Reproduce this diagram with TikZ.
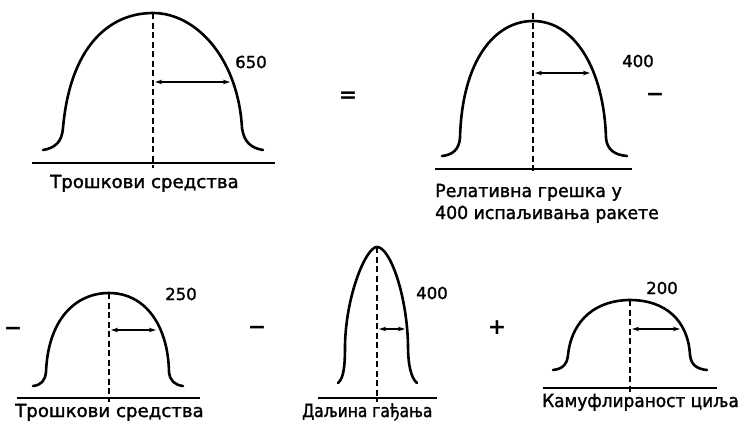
\documentclass[tikz,border=0pt]{standalone}
\usepackage{fontspec}
\setmainfont{DejaVu Sans}
\newfontfamily\lettering{DejaVu Sans}[FakeBold=1.6]
\usetikzlibrary{arrows.meta}
\begin{document}
\begin{tikzpicture}[x=1pt,y=-1pt,
  dome/.style={line width=2.6pt, line cap=round, line join=round},
  axisline/.style={line width=1.6pt},
  midline/.style={line width=1.5pt, dash pattern=on 6pt off 3.5pt},
  dimarrow/.style={line width=1.2pt, {Stealth[length=7pt,width=4.5pt]}-{Stealth[length=7pt,width=4.5pt]}},
  lbl/.style={font=\lettering\fontsize{18}{21}\selectfont, inner sep=0pt, anchor=base west},
  num/.style={font=\lettering\fontsize{16.5}{19}\selectfont, inner sep=0pt},
  op/.style={font=\fontsize{22}{24}\selectfont\bfseries, inner sep=0pt}]
\useasboundingbox (0,0) rectangle (743,424);

% top left
\draw[dome] (43,150) .. controls (55,148) and (62,142) .. (63,128) .. controls (70,48) and (108,13) .. (153,13) .. controls (196,13) and (238,58) .. (242,128) .. controls (244,142) and (251,148) .. (263,150);
\draw[axisline] (32,163) -- (275,163);
\coordinate (c1t) at (153,13); \coordinate (c1b) at (153,168);
\draw[midline] (c1t) -- (c1b);
\coordinate (a1l) at (155,82); \coordinate (a1r) at (230,82);
\draw[dimarrow] (a1l) -- (a1r);
\node[num] (n1) at (251,62) {650};
\node[lbl, xscale=1.01] (t1) at (50,188) {Трошкови средства};

\node[op] (eq) at (348,97) {=};

% top right
\draw[dome] (442,156) .. controls (452,155) and (459,150) .. (460,138) .. controls (462,60) and (495,21) .. (533,21) .. controls (575,21) and (604,70) .. (606,138) .. controls (607,150) and (615,155) .. (627,156);
\draw[axisline] (435,169) -- (632,169);
\coordinate (c2t) at (533,13); \coordinate (c2b) at (533,173);
\draw[midline] (c2t) -- (c2b);
\coordinate (a2l) at (535,73); \coordinate (a2r) at (590,73);
\draw[dimarrow] (a2l) -- (a2r);
\node[num] (n2) at (638,61) {400};
\node[op] (m1) at (655,97) {−};
\node[lbl, xscale=0.97] (t2a) at (435,197) {Релативна грешка у};
\node[lbl, xscale=0.96] (t2b) at (435,219) {400 испаљивања ракете};

% bottom left
\node[op] (m2) at (13,331) {−};
\draw[dome] (33,386) .. controls (41,385) and (45,381) .. (46,372) .. controls (48,320) and (75,293) .. (109,293) .. controls (145,293) and (168,325) .. (169,372) .. controls (170,381) and (175,385) .. (183,386);
\draw[axisline] (17,398) -- (200,398);
\coordinate (c3t) at (109,293); \coordinate (c3b) at (109,402);
\draw[midline] (c3t) -- (c3b);
\coordinate (a3l) at (111,330); \coordinate (a3r) at (156,330);
\draw[dimarrow] (a3l) -- (a3r);
\node[num] (n3) at (181,294) {250};
\node[lbl, xscale=1.01] (t3) at (15,417) {Трошкови средства};

\node[op] (m3) at (257,330) {−};

% bottom middle
\draw[dome] (338,383) .. controls (344,378) and (345,365) .. (345,345) .. controls (346,295) and (366,247) .. (377,247) .. controls (390,247) and (407,295) .. (408,345) .. controls (408,365) and (411,378) .. (417,383);
\draw[axisline] (318,398) -- (437,398);
\coordinate (c4t) at (377,247); \coordinate (c4b) at (377,402);
\draw[midline] (c4t) -- (c4b);
\coordinate (a4l) at (379,329); \coordinate (a4r) at (405,329);
\draw[dimarrow] (a4l) -- (a4r);
\node[num] (n4) at (432,293) {400};
\node[lbl, xscale=0.86] (t4) at (302,417) {Даљина гађања};

\node[op] (pl) at (497,328) {+};

% bottom right
\draw[dome] (553,370) .. controls (562,369) and (567,365) .. (568,355) .. controls (572,318) and (598,300) .. (630,300) .. controls (665,300) and (688,320) .. (690,355) .. controls (691,365) and (697,369) .. (707,370);
\draw[axisline] (543,388) -- (717,388);
\coordinate (c5t) at (630,300); \coordinate (c5b) at (630,392);
\draw[midline] (c5t) -- (c5b);
\coordinate (a5l) at (632,329); \coordinate (a5r) at (680,329);
\draw[dimarrow] (a5l) -- (a5r);
\node[num] (n5) at (662,288) {200};
\node[lbl, xscale=0.94] (t5) at (542,407) {Камуфлираност циља};
\end{tikzpicture}
\end{document}
